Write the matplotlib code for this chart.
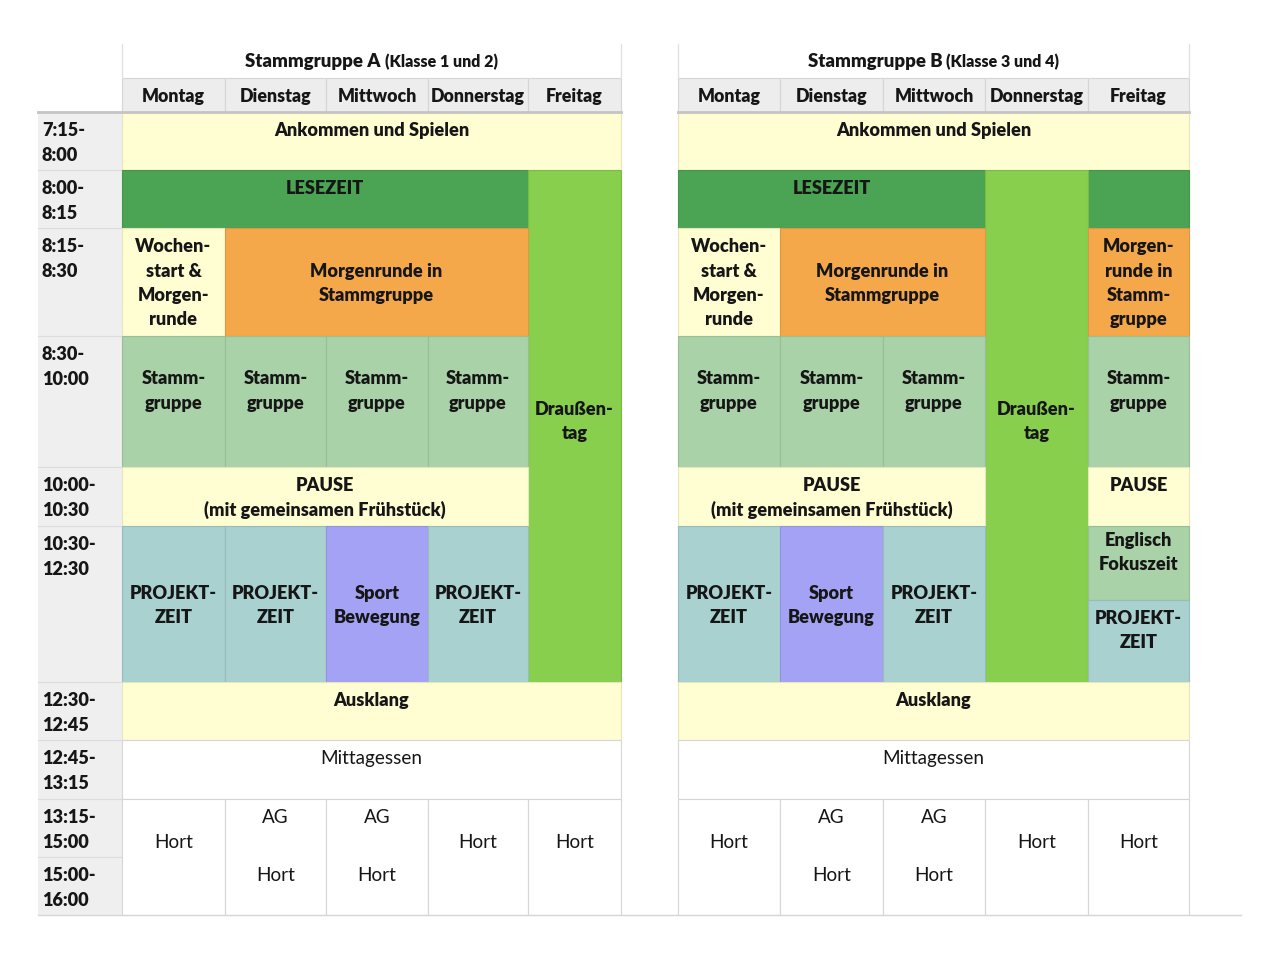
import matplotlib
matplotlib.use("Agg")
import matplotlib.pyplot as plt
from matplotlib.patches import Rectangle
from matplotlib.colors import to_rgb

plt.rcParams['font.family'] = ['Lato', 'DejaVu Sans']

# ---------------- data ----------------
panel_titles = ["Stammgruppe A", "Stammgruppe B"]
panel_subtitles = ["(Klasse 1 und 2)", "(Klasse 3 und 4)"]
days = ["Montag", "Dienstag", "Mittwoch", "Donnerstag", "Freitag"]
time_labels = ["7:15-\n8:00", "8:00-\n8:15", "8:15-\n8:30", "8:30-\n10:00",
               "10:00-\n10:30", "10:30-\n12:30", "12:30-\n12:45",
               "12:45-\n13:15", "13:15-\n15:00", "15:00-\n16:00"]
time_rows = [(0, 1), (1, 2), (2, 3), (3, 4), (4, 5), (5, 7), (7, 8),
             (8, 9), (9, 10), (10, 11)]

STAMM = "Stamm-\ngruppe"
PROJ = "PROJEKT-\nZEIT"
WOCHE = "Wochen-\nstart &\nMorgen-\nrunde"
PAUSE_LONG = "PAUSE\n(mit gemeinsamen Frühstück)"

# (row_start, row_end, col_start, col_end, text, kind, vertical placement)
cells_a = [
    (0, 1, 0, 5, "Ankommen und Spielen", "yellow", "top"),
    (1, 2, 0, 4, "LESEZEIT", "read", "top"),
    (1, 7, 4, 5, "Draußen-\ntag", "out", "midup"),
    (2, 3, 0, 1, WOCHE, "yellow", "mid"),
    (2, 3, 1, 4, "Morgenrunde in\nStammgruppe", "morning", "mid"),
    (3, 4, 0, 1, STAMM, "stamm", "up"),
    (3, 4, 1, 2, STAMM, "stamm", "up"),
    (3, 4, 2, 3, STAMM, "stamm", "up"),
    (3, 4, 3, 4, STAMM, "stamm", "up"),
    (4, 5, 0, 4, PAUSE_LONG, "yellow", "top"),
    (5, 7, 0, 1, PROJ, "project", "mid"),
    (5, 7, 1, 2, PROJ, "project", "mid"),
    (5, 7, 2, 3, "Sport\nBewegung", "sport", "mid"),
    (5, 7, 3, 4, PROJ, "project", "mid"),
    (7, 8, 0, 5, "Ausklang", "yellow", "top"),
    (8, 9, 0, 5, "Mittagessen", "white", "top"),
    (9, 11, 0, 1, "Hort", "white", "up2"),
    (9, 11, 1, 2, "", "white", "top"),
    (9, 10, 1, 2, "AG", None, "top"),
    (10, 11, 1, 2, "Hort", None, "top"),
    (9, 11, 2, 3, "", "white", "top"),
    (9, 10, 2, 3, "AG", None, "top"),
    (10, 11, 2, 3, "Hort", None, "top"),
    (9, 11, 3, 4, "Hort", "white", "up2"),
    (9, 11, 4, 5, "Hort", "white", "up2"),
]

cells_b = [
    (0, 1, 0, 5, "Ankommen und Spielen", "yellow", "top"),
    (1, 2, 0, 3, "LESEZEIT", "read", "top"),
    (1, 2, 4, 5, "", "read", "top"),
    (1, 7, 3, 4, "Draußen-\ntag", "out", "midup"),
    (2, 3, 0, 1, WOCHE, "yellow", "mid"),
    (2, 3, 1, 3, "Morgenrunde in\nStammgruppe", "morning", "mid"),
    (2, 3, 4, 5, "Morgen-\nrunde in\nStamm-\ngruppe", "morning", "mid"),
    (3, 4, 0, 1, STAMM, "stamm", "up"),
    (3, 4, 1, 2, STAMM, "stamm", "up"),
    (3, 4, 2, 3, STAMM, "stamm", "up"),
    (3, 4, 4, 5, STAMM, "stamm", "up"),
    (4, 5, 0, 3, PAUSE_LONG, "yellow", "top"),
    (4, 5, 4, 5, "PAUSE", "yellow", "top"),
    (5, 7, 0, 1, PROJ, "project", "mid"),
    (5, 7, 1, 2, "Sport\nBewegung", "sport", "mid"),
    (5, 7, 2, 3, PROJ, "project", "mid"),
    (5, 6, 4, 5, "Englisch\nFokuszeit", "stamm", "up"),
    (6, 7, 4, 5, PROJ, "project", "up"),
    (7, 8, 0, 5, "Ausklang", "yellow", "top"),
    (8, 9, 0, 5, "Mittagessen", "white", "top"),
    (9, 11, 0, 1, "Hort", "white", "up2"),
    (9, 11, 1, 2, "", "white", "top"),
    (9, 10, 1, 2, "AG", None, "top"),
    (10, 11, 1, 2, "Hort", None, "top"),
    (9, 11, 2, 3, "", "white", "top"),
    (9, 10, 2, 3, "AG", None, "top"),
    (10, 11, 2, 3, "Hort", None, "top"),
    (9, 11, 3, 4, "Hort", "white", "up2"),
    (9, 11, 4, 5, "Hort", "white", "up2"),
]

# ---------------- layout / style ----------------
row_edges = [112, 170, 228, 336, 467, 526, 600, 682, 740, 799, 857, 915]
col_edges = [[122, 225, 326, 428, 528, 621],
             [678, 780, 883, 985, 1088, 1189]]
time_x = (38, 122)
title_y = (44, 78)
header_y = (78, 112)

colors = {
    "yellow": "#FFFED3",
    "read": "#4BA453",
    "out": "#88CF4D",
    "morning": "#F4A84A",
    "stamm": "#A9D2A8",
    "project": "#A8D1D0",
    "sport": "#A4A2F5",
    "white": "#FFFFFF",
}
bold_kinds = {"yellow", "read", "out", "morning", "stamm", "project", "sport"}
offsets = {"mid": 0, "midup": -6, "up": -12, "up2": -16}
FS_B = 13.1
FS_N = 13.6
LINE = 24.4
TXT = "#161616"
BOLD = "heavy"


def darker(c, f=0.9):
    r, g, b = to_rgb(c)
    return (r * f, g * f, b * f)


fig = plt.figure(figsize=(12.8, 9.6), dpi=100)
ax = fig.add_axes([0, 0, 1, 1])
ax.set_xlim(0, 1280)
ax.set_ylim(960, 0)
ax.axis("off")


def draw_lines(text, xc, y_first, bold, ha="center", x=None):
    for i, line in enumerate(text.split("\n")):
        ax.text(xc if x is None else x, y_first + i * LINE + 6.8, line,
                ha=ha, va="baseline", fontsize=FS_B if bold else FS_N,
                color=TXT, fontweight=BOLD if bold else "normal", zorder=5)


# time column
ax.add_patch(Rectangle((time_x[0], row_edges[0]), time_x[1] - time_x[0],
                       row_edges[-1] - row_edges[0], facecolor="#EFEFEF",
                       edgecolor="none", zorder=1))
for (r0, r1), lab in zip(time_rows, time_labels):
    ax.plot([time_x[0], time_x[1]], [row_edges[r0]] * 2, color="#DCDCDC",
            lw=0.8, zorder=2)
    draw_lines(lab, None, row_edges[r0] + 17.5, True, ha="left",
               x=time_x[0] + 4)

renderer = fig.canvas.get_renderer()

for p, (edges, cells) in enumerate(zip(col_edges, [cells_a, cells_b])):
    x0, x1 = edges[0], edges[-1]
    # title
    ty = (title_y[0] + title_y[1]) / 2 + 6
    t1 = ax.text(0, ty, panel_titles[p] + " ", fontsize=FS_B + 0.3,
                 fontweight=BOLD, color=TXT, va="baseline")
    t2 = ax.text(0, ty, panel_subtitles[p], fontsize=FS_B - 1.6,
                 fontweight=BOLD, color=TXT, va="baseline")
    w1 = t1.get_window_extent(renderer).width
    w2 = t2.get_window_extent(renderer).width
    start = (x0 + x1) / 2 - (w1 + w2) / 2
    t1.set_x(start)
    t2.set_x(start + w1)
    for xx in (x0, x1):
        ax.plot([xx, xx], [title_y[0], title_y[1]], color="#E2E2E2", lw=1,
                zorder=2)
    # day header
    for d in range(5):
        ax.add_patch(Rectangle((edges[d], header_y[0]), edges[d + 1] - edges[d],
                               header_y[1] - header_y[0], facecolor="#EDEDED",
                               edgecolor="#D5D5D5", lw=0.8, zorder=1))
        ax.text((edges[d] + edges[d + 1]) / 2, header_y[0] + 17 + 6.8, days[d],
                ha="center", va="baseline", fontsize=FS_B - 0.3, color=TXT,
                fontweight=BOLD, zorder=5)
    # cells
    for r0, r1, c0, c1, text, kind, vpos in cells:
        cx0, cx1 = edges[c0], edges[c1]
        y0, y1 = row_edges[r0], row_edges[r1]
        if kind is not None:
            face = colors[kind]
            edge = "#D6D6D6" if kind == "white" else darker(face)
            ax.add_patch(Rectangle((cx0, y0), cx1 - cx0, y1 - y0,
                                   facecolor=face, edgecolor=edge, lw=0.8,
                                   zorder=2))
        if not text:
            continue
        bold = kind in bold_kinds
        n = text.count("\n") + 1
        if vpos == "top":
            yf = y0 + 17.5
        else:
            yc = (y0 + y1) / 2 + offsets[vpos]
            yf = yc - (n - 1) * LINE / 2
        draw_lines(text, (cx0 + cx1) / 2, yf, bold)

# header bottom rule
ax.plot([time_x[0], col_edges[0][-1]], [header_y[1]] * 2, color="#C4C4C4",
        lw=2, zorder=3)
ax.plot([col_edges[1][0], col_edges[1][-1]], [header_y[1]] * 2,
        color="#C4C4C4", lw=2, zorder=3)
# bottom rule
ax.plot([time_x[0], 1241], [row_edges[-1]] * 2, color="#D6D6D6", lw=1,
        zorder=3)

fig.savefig("out.png", dpi=100)
